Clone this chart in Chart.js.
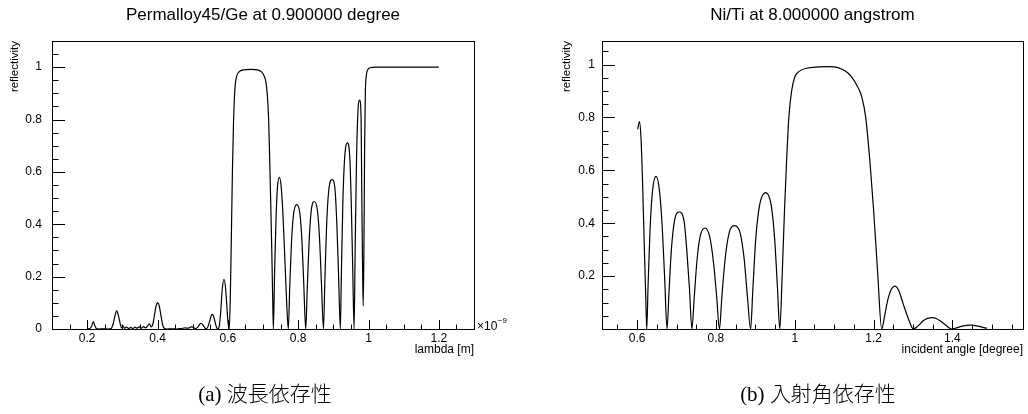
<!DOCTYPE html>
<html>
<head>
<meta charset="utf-8">
<script src="https://cdn.jsdelivr.net/npm/chart.js@4/dist/chart.umd.min.js"></script>
<style>
  html, body { margin: 0; padding: 0; background: #fff; }
  body { width: 1028px; height: 414px; position: relative; overflow: hidden; }
  .pane { position: absolute; top: 0; width: 514px; height: 414px; }
  .cap { position: absolute; top: 378px; height: 28px; line-height: 28px; white-space: nowrap;
         font-size: 21px; color: #000; transform: translateX(-50%);
         font-family: "Liberation Serif", "DejaVu Serif", serif; }
  .cap .cjk { font-family: "Noto Sans CJK JP", sans-serif; font-weight: 300; }
</style>
</head>
<body>
<div class="pane" style="left:0"><canvas id="c1" width="514" height="414"></canvas></div>
<div class="pane" style="left:514px"><canvas id="c2" width="514" height="414"></canvas></div>
<div class="cap" style="left:265px">(a) <span class="cjk">波長依存性</span></div>
<div class="cap" style="left:818px">(b) <span class="cjk">入射角依存性</span></div>
<script>
// ---------- data (a): reflectivity vs wavelength (x in units of 1e-9 m) ----------
const leftLambda = [
  0.200,0.208,0.213,0.2175,0.222,0.226,0.232,0.245,0.258,0.268,0.274,0.279,0.284,0.289,0.294,0.298,
  0.302,0.306,0.312,0.318,0.324,0.330,0.336,0.342,0.348,0.354,0.360,0.366,0.372,0.377,0.382,0.387,
  0.391,0.396,0.4006,0.405,0.410,0.414,0.418,0.425,0.440,0.455,0.468,0.478,0.488,0.496,0.502,0.508,
  0.514,0.519,0.524,0.529,0.534,0.538,0.543,0.548,0.552,0.556,0.560,0.564,0.568,0.572,0.576,0.580,
  0.584,0.589,0.594,0.598,0.601,0.604,0.607,0.610,0.613,0.616,0.620,0.625,0.632,0.645,0.665,0.685,
  0.695,0.702,0.708,0.712,0.716,0.719,0.722,0.725,0.7275,0.7295,
  0.733,0.737,0.741,0.7465,0.752,0.757,0.763,0.768,0.772,
  0.776,0.781,0.787,0.796,0.805,0.811,0.816,0.8215,
  0.826,0.831,0.837,0.846,0.855,0.861,0.866,0.872,
  0.876,0.881,0.887,0.897,0.905,0.910,0.915,0.920,
  0.923,0.927,0.932,0.940,0.947,0.951,0.955,0.959,
  0.962,0.966,0.970,0.975,0.979,0.981,0.983,0.985,0.987,0.989,0.991,0.994,0.998,1.005,1.020,1.200
];
const leftReflectivity = [
  0,0.002,0.012,0.028,0.012,0.002,0,0.001,0,0.002,0.02,0.05,0.069,0.05,0.02,0.004,
  0.012,0.003,0.007,0.002,0.006,0.002,0.007,0.003,0.008,0.003,0.009,0.004,0.012,0.02,0.008,0.02,
  0.05,0.088,0.101,0.088,0.05,0.02,0.004,0,0.001,0,0.002,0.004,0.003,0.008,0.006,0.002,
  0.006,0.016,0.022,0.016,0.005,0.001,0.008,0.028,0.048,0.056,0.047,0.025,0.006,0.001,0.015,0.07,
  0.15,0.19,0.15,0.07,0.02,0,0.12,0.35,0.6,0.78,0.915,0.965,0.982,0.99,0.992,0.99,
  0.983,0.97,0.945,0.9,0.8,0.65,0.48,0.3,0.12,0,
  0.22,0.42,0.54,0.579,0.54,0.43,0.24,0.08,0,
  0.16,0.33,0.44,0.475,0.44,0.33,0.17,0,
  0.16,0.33,0.45,0.487,0.45,0.34,0.18,0,
  0.19,0.40,0.53,0.571,0.53,0.40,0.20,0,
  0.22,0.48,0.65,0.711,0.65,0.48,0.24,0,
  0.30,0.65,0.83,0.874,0.80,0.50,0.25,0.088,0.30,0.70,0.90,0.97,0.99,0.998,1.0,1.0
];
const leftXTicks = [0.2, 0.4, 0.6, 0.8, 1.0, 1.2];
const leftXLabels = ['0.2', '0.4', '0.6', '0.8', '1', '1.2'];
const leftYTicks = [0, 0.2, 0.4, 0.6, 0.8, 1.0];
const leftYLabels = ['0', '0.2', '0.4', '0.6', '0.8', '1'];

// ---------- data (b): reflectivity vs incident angle (degree) ----------
const rightAngle = [
  0.6015,0.606,0.610,0.614,0.618,0.622,0.6245,
  0.628,0.633,0.639,0.648,0.657,0.664,0.670,0.676,
  0.681,0.687,0.695,0.707,0.719,0.726,0.733,0.739,
  0.745,0.752,0.760,0.772,0.784,0.794,0.802,0.809,
  0.815,0.823,0.833,0.848,0.862,0.872,0.880,0.888,
  0.894,0.901,0.911,0.926,0.940,0.949,0.956,0.962,
  0.968,0.974,0.979,0.985,0.992,1.000,1.012,1.030,1.060,1.081,1.100,1.120,1.135,1.144,1.158,1.170,
  1.180,1.191,1.200,1.210,1.2205,
  1.228,1.236,1.245,1.254,1.264,1.275,1.288,1.301,
  1.313,1.325,1.337,1.348,1.360,1.372,1.385,1.397,
  1.410,1.425,1.445,1.465,1.480,1.4875
];
const rightReflectivity = [
  0.755,0.784,0.72,0.55,0.33,0.12,0,
  0.17,0.38,0.52,0.577,0.52,0.38,0.19,0,
  0.14,0.30,0.41,0.4425,0.41,0.30,0.15,0,
  0.12,0.26,0.35,0.382,0.35,0.25,0.12,0,
  0.12,0.26,0.36,0.391,0.36,0.26,0.12,0,
  0.16,0.34,0.47,0.516,0.47,0.34,0.16,0,
  0.20,0.45,0.627,0.80,0.90,0.953,0.975,0.986,0.991,0.992,0.991,0.982,0.968,0.953,0.92,0.878,
  0.80,0.627,0.45,0.22,0,
  0.05,0.11,0.15,0.162,0.145,0.095,0.04,0,
  0.012,0.03,0.04,0.043,0.039,0.027,0.012,0,
  0.004,0.011,0.015,0.011,0.005,0.003
];
const rightXTicks = [0.6, 0.8, 1.0, 1.2, 1.4];
const rightXLabels = ['0.6', '0.8', '1', '1.2', '1.4'];
const rightYTicks = [0.2, 0.4, 0.6, 0.8, 1.0];
const rightYLabels = ['0.2', '0.4', '0.6', '0.8', '1'];

// ---------- drawing ----------
Chart.defaults.font.family = "'Liberation Sans', Arial, Helvetica, sans-serif";
Chart.defaults.color = '#000';

const frameTicks = {
  id: 'frameTicks',
  afterDatasetsDraw(chart, args, o) {
    const {ctx, chartArea: a, scales: {x, y}} = chart;
    ctx.save();
    ctx.strokeStyle = '#000';
    ctx.lineWidth = 1;
    ctx.beginPath();
    const isMajor = (list, v) => list.some(m => Math.abs(m - v) < 1e-6);
    const nx = Math.round((x.max - o.xStart) / o.step);
    for (let i = 0; i <= nx; i++) {
      const v = o.xStart + i * o.step;
      if (v < x.min - 1e-9 || v > x.max + 1e-9) continue;
      const px = Math.round(x.getPixelForValue(v)) + 0.5;
      const len = isMajor(o.xMajor, v) ? o.xMajLen : o.xMajLen / 2;
      ctx.moveTo(px, a.bottom); ctx.lineTo(px, a.bottom - len);
    }
    const ny = Math.round((y.max - o.yStart) / o.step);
    for (let i = 0; i <= ny; i++) {
      const v = o.yStart + i * o.step;
      if (v < y.min - 1e-9 || v > y.max + 1e-9) continue;
      const py = Math.round(y.getPixelForValue(v)) + 0.5;
      const len = isMajor(o.yMajor, v) ? o.yMajLen : o.yMajLen / 2;
      ctx.moveTo(a.left, py); ctx.lineTo(a.left + len, py);
    }
    ctx.stroke();
    ctx.strokeRect(Math.round(a.left) + 0.5, Math.round(a.top) + 0.5,
                   Math.round(a.right - a.left), Math.round(a.bottom - a.top));
    if (o.exponent) {
      ctx.fillStyle = '#000';
      ctx.textBaseline = 'middle';
      ctx.textAlign = 'left';
      ctx.font = "12px 'Liberation Sans', Arial, sans-serif";
      ctx.fillText('\u00d710', a.right + 3, a.bottom - 2);
      const w = ctx.measureText('\u00d710').width;
      ctx.font = "8px 'Liberation Sans', Arial, sans-serif";
      ctx.fillText('\u22129', a.right + 3 + w + 0.5, a.bottom - 8);
    }
    ctx.restore();
  }
};

function makeChart(id, xs, ys, cfg) {
  const points = xs.map((v, i) => ({x: v, y: ys[i]}));
  return new Chart(document.getElementById(id), {
    type: 'scatter',
    data: { datasets: [{
      data: points, showLine: true, borderColor: '#000', borderWidth: 1.2,
      pointRadius: 0, pointHoverRadius: 0, cubicInterpolationMode: 'monotone', fill: false
    }]},
    plugins: [frameTicks],
    options: {
      responsive: false, animation: false, devicePixelRatio: 1,
      events: [],
      layout: { padding: { left: 0, right: cfg.padRight, top: 0, bottom: 0 } },
      plugins: {
        legend: { display: false }, tooltip: { enabled: false },
        title: {
          display: true, text: cfg.title, fullSize: false, color: '#000',
          font: { size: 17, weight: 'normal' }, padding: { top: 4.8, bottom: 15.8 }
        },
        frameTicks: {
          step: 0.05, xStart: cfg.xStart, yStart: 0,
          xMajor: cfg.xTicks, yMajor: [0, 0.2, 0.4, 0.6, 0.8, 1.0],
          xMajLen: 9, yMajLen: 13, exponent: cfg.exponent
        }
      },
      scales: {
        x: {
          type: 'linear', min: cfg.xMin, max: cfg.xMax,
          grid: { display: false, drawTicks: false }, border: { display: false },
          afterBuildTicks: s => { s.ticks = cfg.xTicks.map(v => ({value: v})); },
          afterFit: s => { s.height = 85; },
          ticks: { padding: 2, font: { size: 12 }, maxRotation: 0, autoSkip: false,
                   callback: (v, i) => cfg.xLabels[i] },
          title: { display: true, text: cfg.xTitle, align: 'end', font: { size: 12 },
                   padding: { top: 0, bottom: 56.8 } }
        },
        y: {
          type: 'linear', min: 0, max: cfg.yMax,
          grid: { display: false, drawTicks: false }, border: { display: false },
          afterBuildTicks: s => { s.ticks = cfg.yTicks.map(v => ({value: v})); },
          afterFit: s => { s.width = cfg.yWidth; },
          ticks: { padding: cfg.yPad, font: { size: 12 }, autoSkip: false,
                   callback: (v, i) => cfg.yLabels[i] },
          title: { display: true, text: 'reflectivity', align: 'end', font: { size: 11.5 },
                   padding: { top: cfg.yTitlePad, bottom: 0 } }
        }
      }
    }
  });
}

makeChart('c1', leftLambda, leftReflectivity, {
  title: 'Permalloy45/Ge at 0.900000 degree',
  xMin: 0.1, xMax: 1.3, xStart: 0.1, yMax: 1.1,
  xTicks: leftXTicks, xLabels: leftXLabels, yTicks: leftYTicks, yLabels: leftYLabels,
  xTitle: 'lambda [m]', padRight: 40, yWidth: 52, yPad: 10, yTitlePad: 8, exponent: true
});
makeChart('c2', rightAngle, rightReflectivity, {
  title: 'Ni/Ti at 8.000000 angstrom',
  xMin: 0.511, xMax: 1.579, xStart: 0.55, yMax: 1.089,
  xTicks: rightXTicks, xLabels: rightXLabels, yTicks: rightYTicks, yLabels: rightYLabels,
  xTitle: 'incident angle [degree]', padRight: 5, yWidth: 88, yPad: 7, yTitlePad: 45.8, exponent: false
});
</script>
</body>
</html>
